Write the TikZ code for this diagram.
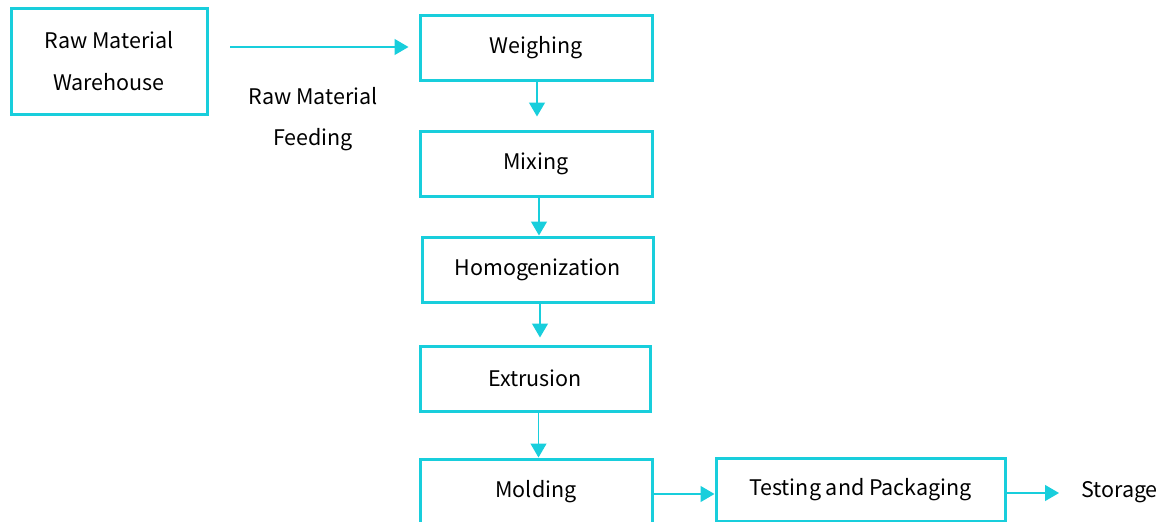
\documentclass[tikz,border=0pt]{standalone}
\usepackage{fontspec}
\setmainfont{Noto Sans CJK SC}
\usetikzlibrary{arrows.meta}
\definecolor{cy}{RGB}{24,206,220}
\begin{document}
\begin{tikzpicture}[x=1pt,y=-1pt,
  box/.style={draw=cy,line width=3pt,inner sep=0pt,align=center,font=\fontsize{21.5}{42}\selectfont},
  lbl/.style={align=center,inner sep=0pt,font=\fontsize{21.5}{41}\selectfont},
  arr/.style={draw=cy,line width=1.3pt,-{Triangle[length=14pt,width=16pt]}}]
\useasboundingbox (0,0) rectangle (1165,522);
\node[box,minimum width=196pt,minimum height=106pt] (wh) at (109,61) {Raw Material\\Warehouse};
\node[box,minimum width=232pt,minimum height=65pt] (we) at (536,47.5) {Weighing};
\node[box,minimum width=232pt,minimum height=65pt] (mi) at (536,163.5) {Mixing};
\node[box,minimum width=231pt,minimum height=65pt] (ho) at (537.5,269.5) {Homogenization};
\node[box,minimum width=230pt,minimum height=65pt] (ex) at (535,378.5) {Extrusion};
\node[box,minimum width=232pt,minimum height=65pt] (mo) at (536,491.5) {Molding};
\node[box,minimum width=289pt,minimum height=63pt] (tp) at (860.5,489.5) {Testing and Packaging};
\node[lbl,anchor=west] (st) at (1081,492) {Storage};
\coordinate (fs) at (230,47);
\node[lbl] (fl) at (313,119) {Raw Material\\Feeding};
\draw[arr,shorten >=10pt] (fs) -- (fs -| we.west);
\draw[arr,shorten >=13pt] (we.south -| 537,0) -- (mi.north -| 537,0);
\draw[arr] (mi.south -| 539,0) -- (ho.north -| 539,0);
\draw[arr,shorten >=7pt] (ho.south -| 540,0) -- (ex.north -| 540,0);
\draw[arr] (ex.south -| 538.5,0) -- (mo.north -| 538.5,0);
\draw[arr] (mo.east |- 0,494) -- (tp.west |- 0,494);
\draw[arr] (tp.east |- 0,493) -- ([xshift=-22pt]st.west |- 0,493);
\end{tikzpicture}
\end{document}
